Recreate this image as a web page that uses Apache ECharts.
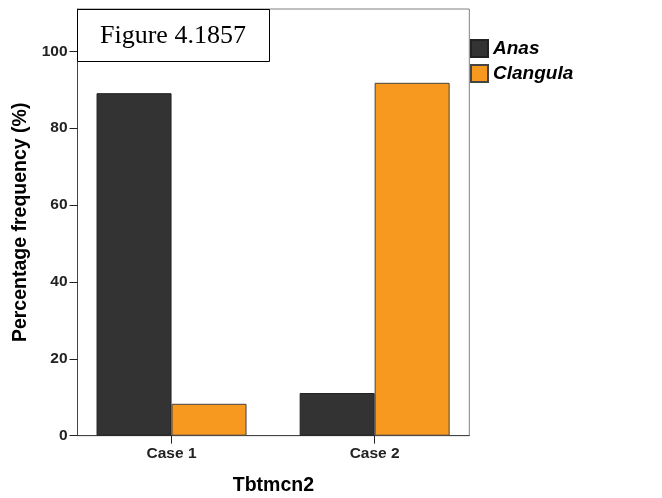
<!DOCTYPE html>
<html>
<head>
<meta charset="utf-8">
<script src="https://cdn.jsdelivr.net/npm/echarts@6/dist/echarts.min.js"></script>
<style>html,body{margin:0;padding:0;background:#fff}#c{width:662px;height:498px}</style>
</head>
<body>
<div id="c"></div>
<script>
const categories = ['Case 1', 'Case 2'];
const anas = [89.1, 11.1];
const clangula = [8.3, 91.8];
const yTicks = [0, 20, 40, 60, 80, 100];
const catPositions = [1, 2];

const chart = echarts.init(document.getElementById('c'), null, {renderer: 'canvas'});
const ff = 'Liberation Sans, Arial, sans-serif';
chart.setOption({
  animation: false,
  backgroundColor: '#fff',
  title: {
    text: 'Figure 4.1857',
    left: 77, top: 9,
    padding: [14, 24, 13, 23],
    borderColor: '#000', borderWidth: 1,
    backgroundColor: '#fff',
    textStyle: {fontFamily: 'Liberation Serif, Times New Roman, serif', fontSize: 26, fontWeight: 'normal', color: '#000'}
  },
  legend: {
    orient: 'vertical',
    left: 470, top: 39, padding: 0,
    itemWidth: 17, itemHeight: 17, itemGap: 6,
    icon: 'rect',
    textStyle: {fontFamily: ff, fontSize: 19, fontWeight: 'bold', fontStyle: 'italic', color: '#000'},
    data: ['Anas', 'Clangula']
  },
  grid: {
    left: 77.5, right: 192.7, top: 9, bottom: 62.3,
    outerBoundsMode: 'none', containLabel: false,
    show: true, borderColor: '#808080', borderWidth: 1, backgroundColor: 'transparent'
  },
  xAxis: {
    type: 'value',
    min: 0.537, max: 2.466,
    name: 'Tbtmcn2', nameLocation: 'middle', nameGap: 40,
    nameTextStyle: {fontFamily: ff, fontSize: 19.5, fontWeight: 'bold', color: '#000'},
    splitLine: {show: false},
    axisLine: {show: true, lineStyle: {color: '#444', width: 1}},
    axisTick: {show: true, length: 8, customValues: catPositions, lineStyle: {color: '#222'}},
    axisLabel: {
      customValues: catPositions, margin: 10,
      fontFamily: ff, fontSize: 15.5, fontWeight: 'bold', color: '#222',
      formatter: v => categories[Math.round(v) - 1] || ''
    }
  },
  yAxis: {
    type: 'value',
    min: 0, max: 111,
    name: 'Percentage frequency (%)', nameLocation: 'middle', nameGap: 41,
    nameTextStyle: {fontFamily: ff, fontSize: 19.5, fontWeight: 'bold', color: '#000'},
    splitLine: {show: false},
    axisLine: {show: true, lineStyle: {color: '#444', width: 1}},
    axisTick: {show: true, length: 8, customValues: yTicks, lineStyle: {color: '#222'}},
    axisLabel: {customValues: yTicks, margin: 10, fontFamily: ff, fontSize: 15.5, fontWeight: 'bold', color: '#222'}
  },
  series: [
    {
      name: 'Anas', type: 'bar', barWidth: 75, barGap: '0%',
      itemStyle: {color: '#333333', borderColor: '#222', borderWidth: 1},
      data: catPositions.map((p, i) => [p, anas[i]])
    },
    {
      name: 'Clangula', type: 'bar', barWidth: 75, barGap: '0%',
      itemStyle: {color: '#F7991F', borderColor: '#444', borderWidth: 1},
      data: catPositions.map((p, i) => [p, clangula[i]])
    }
  ]
});
</script>
</body>
</html>
